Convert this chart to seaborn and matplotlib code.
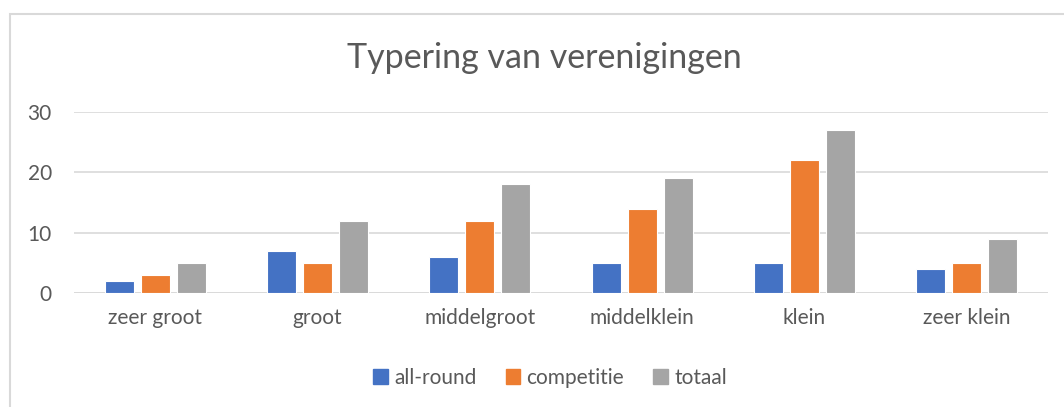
import seaborn as sns
import matplotlib.pyplot as plt
import pandas as pd
from matplotlib.patches import Rectangle

# data
categorieen = ["zeer groot", "groot", "middelgroot", "middelklein", "klein", "zeer klein"]
all_round = [2, 7, 6, 5, 5, 4]
competitie = [3, 5, 12, 14, 22, 5]
totaal = [5, 12, 18, 19, 27, 9]
reeksen = ["all-round", "competitie", "totaal"]
kleuren = ["#4472C4", "#ED7D31", "#A5A5A5"]

df = pd.DataFrame({"categorie": categorieen, "all-round": all_round,
                   "competitie": competitie, "totaal": totaal})
df = df.melt(id_vars="categorie", var_name="reeks", value_name="aantal")

sns.set_style("white")
plt.rcParams["font.family"] = ["Lato", "DejaVu Sans"]

fig = plt.figure(figsize=(10.64, 4.07), dpi=100)
ax = fig.add_axes([74 / 1064, 1 - 293 / 407, (1048 - 74) / 1064, (293 - 112) / 407])

sns.barplot(data=df, x="categorie", y="aantal", hue="reeks", order=categorieen,
            hue_order=reeksen, palette=kleuren, saturation=1, width=0.667, gap=0.2,
            edgecolor="white", linewidth=0.8, ax=ax, legend=False)

ax.set_ylim(0, 30)
ax.set_yticks([0, 10, 20, 30])
ax.yaxis.grid(True, color="#D9D9D9", linewidth=1.2)
ax.set_axisbelow(True)
for s in ["top", "right", "left", "bottom"]:
    ax.spines[s].set_visible(False)
ax.axhline(0, color="#D9D9D9", linewidth=1.2, zorder=0)
ax.set_xlabel("")
ax.set_ylabel("")
ax.tick_params(axis="both", length=0, labelsize=15, colors="#595959")
ax.tick_params(axis="y", pad=16)
ax.tick_params(axis="x", pad=11)
ax.set_xlim(-0.5, len(categorieen) - 0.5)

fig.text(0.512, 1 - 58 / 407, "Typering van verenigingen", ha="center", va="center",
         fontsize=24.5, color="#595959")

handles = [Rectangle((0, 0), 1, 1, color=c) for c in kleuren]
fig.legend(handles, reeksen, loc="center", bbox_to_anchor=(0.517, 1 - 378 / 407),
           ncol=3, frameon=False, fontsize=15, handlelength=0.7, handleheight=0.7,
           handletextpad=0.3, columnspacing=1.4, labelcolor="#595959")

# rand van de grafiek (loopt rechts en onder door)
fig.add_artist(Rectangle((9.5 / 1064, -0.05), 1.1, 1 - 14 / 407 + 0.05,
                         transform=fig.transFigure, fill=False,
                         edgecolor="#D9D9D9", linewidth=1.5))

fig.savefig("out.png", dpi=100)
